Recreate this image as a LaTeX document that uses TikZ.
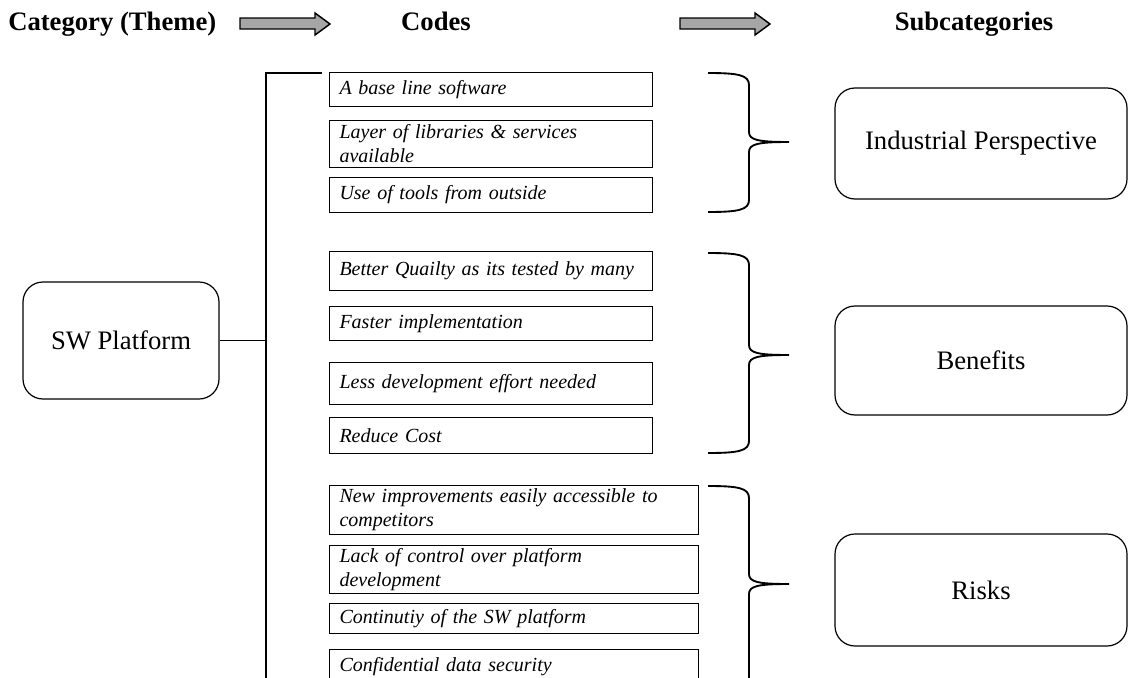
\documentclass[tikz,border=0pt]{standalone}
\usepackage{fontspec}
\setmainfont{Liberation Serif}
% curly brace grouping a column of codes: top y, tip y, bottom y
\newcommand\codebrace[3]{%
  \draw[bracestyle] (708,#1) .. controls (738,#1) and (749,#1+2) .. (749,#1+12)
    -- (749,#2-10) .. controls (749,#2-2) and (758,#2) .. (789,#2)
    .. controls (758,#2) and (749,#2+2) .. (749,#2+10)
    -- (749,#3-12) .. controls (749,#3-2) and (738,#3) .. (708,#3);}
\begin{document}
\begin{tikzpicture}[x=0.75pt,y=-0.75pt,
  head/.style={font=\bfseries\fontsize{20}{24}\selectfont, inner sep=0pt},
  blockarrow/.style={draw=black, line width=1.1pt, fill=black!35, line join=miter},
  themebox/.style={draw, rounded corners=15pt, line width=0.9pt,
    font=\fontsize{20}{24}\selectfont, inner sep=0pt},
  codebox/.style={draw, line width=0.75pt, font=\itshape\fontsize{15}{18}\selectfont,
    align=left, inner xsep=7.5pt, inner ysep=0pt, anchor=north west},
  narrow/.style={minimum width=242.25pt, text width=227.25pt},
  wide/.style={minimum width=276.75pt, text width=261.75pt},
  bracestyle/.style={line width=1.4pt},
  bus/.style={line width=1.5pt},
]
\useasboundingbox (0,0) rectangle (1128,678);
\clip (0,0) rectangle (1128,678);

% column headings and block arrows
\node[head, anchor=base west] (hcat) at (8,31) {Category (Theme)};
\node[head, anchor=base] (hcodes) at (436,31) {Codes};
\node[head, anchor=base] (hsub) at (974,31) {Subcategories};
\draw[blockarrow] (240,18) -- (315,18) -- (315,13) -- (330,24) -- (315,35) -- (315,29) -- (240,29) -- cycle;
\draw[blockarrow] (680,18) -- (755,18) -- (755,13) -- (770,24) -- (755,35) -- (755,29) -- (680,29) -- cycle;

% theme
\node[themebox, minimum width=147pt, minimum height=87.75pt] (sw) at (121,340.5) {SW Platform};

% bus from the theme to all codes
\coordinate (hook) at (322,73);
\coordinate (bustop) at (266,73);
\coordinate (busbot) at (266,690);
\draw[bus] (hook) -- (bustop) -- (busbot);
\draw[line width=1pt] (sw.east) -- (sw.east -| bustop);

% codes: industrial perspective
\node[codebox, narrow, minimum height=25.5pt] (c1) at (329,72) {A base line software};
\node[codebox, narrow, minimum height=35.25pt] (c2) at (329,120) {Layer of libraries \& services\\available};
\node[codebox, narrow, minimum height=26.25pt] (c3) at (329,177) {Use of tools from outside};

% codes: benefits
\node[codebox, narrow, minimum height=29.25pt] (c4) at (329,251) {Better Quailty as its tested by many};
\node[codebox, narrow, minimum height=25.5pt] (c5) at (329,306) {Faster implementation};
\node[codebox, narrow, minimum height=31.5pt] (c6) at (329,362) {Less development effort needed};
\node[codebox, narrow, minimum height=27pt] (c7) at (329,417) {Reduce Cost};

% codes: risks
\node[codebox, wide, minimum height=36.75pt] (c8) at (329,485) {New improvements easily accessible to\\competitors};
\node[codebox, wide, minimum height=36pt] (c9) at (329,545) {Lack of control over platform\\development};
\node[codebox, wide, minimum height=22.5pt] (c10) at (329,603) {Continutiy of the SW platform};
\node[codebox, wide, minimum height=26.25pt] (c11) at (329,649) {Confidential data security};

% braces
\codebrace{73}{142}{212}
\codebrace{253}{355}{453}
\codebrace{486}{584}{690}

% subcategories
\node[themebox, minimum width=219pt, minimum height=83.25pt] (ip) at (981,143.5) {Industrial Perspective};
\node[themebox, minimum width=219pt, minimum height=81.75pt] (ben) at (981,360.5) {Benefits};
\node[themebox, minimum width=219pt, minimum height=84pt] (risk) at (981,590) {Risks};
\end{tikzpicture}
\end{document}
